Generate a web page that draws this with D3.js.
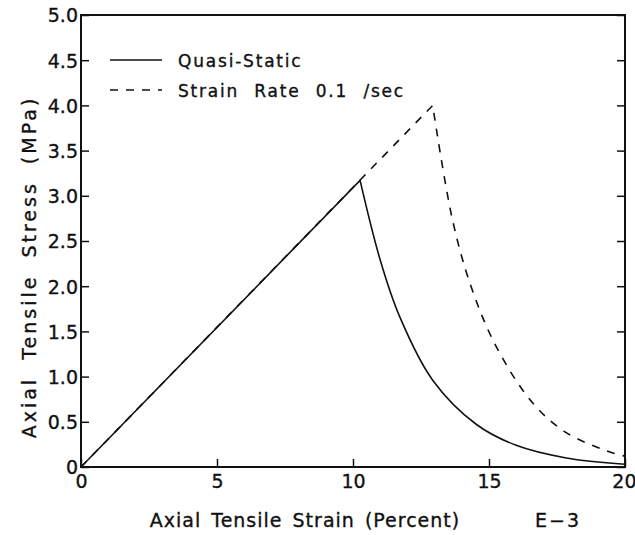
<!DOCTYPE html>
<html>
<head>
<meta charset="utf-8">
<script src="https://cdn.jsdelivr.net/npm/d3@7"></script>
<style>
  html, body { margin: 0; padding: 0; background: #fff; }
  svg text { font-family: "DejaVu Sans", sans-serif; fill: #111; stroke: #111; stroke-width: 0.35px; }
</style>
</head>
<body>
<svg id="chart" width="635" height="535"></svg>
<script>
// Stress–strain data (strain in units of E-3 percent, stress in MPa)
const quasiStrain = [0, 10.26, 11.0, 11.72, 12.93, 14.54, 16.0, 17.84, 20.0];
const quasiStress = [0, 3.17, 2.29, 1.66, 0.96, 0.47, 0.24, 0.10, 0.03];

const rateStrain = [0, 12.93, 13.66, 14.36, 15.27, 16.6, 17.84, 19.5, 20.0];
const rateStress = [0, 4.0, 2.73, 1.98, 1.33, 0.71, 0.38, 0.16, 0.12];

const xTicks = [0, 5, 10, 15, 20];
const yTicks = [0, 0.5, 1.0, 1.5, 2.0, 2.5, 3.0, 3.5, 4.0, 4.5, 5.0];
const yTickLabels = ["0", "0.5", "1.0", "1.5", "2.0", "2.5", "3.0", "3.5", "4.0", "4.5", "5.0"];

const seriesNames = ["Quasi-Static", "Strain Rate 0.1 /sec"];

const svg = d3.select("#chart");
const plotLeft = 81, plotRight = 625, plotTop = 15, plotBottom = 467;

const x = d3.scaleLinear().domain([0, 20]).range([plotLeft, plotRight]);
const y = d3.scaleLinear().domain([0, 5]).range([plotBottom, plotTop]);

const tickLen = 8;

// frame
svg.append("rect")
  .attr("x", plotLeft).attr("y", plotTop)
  .attr("width", plotRight - plotLeft).attr("height", plotBottom - plotTop)
  .attr("fill", "none").attr("stroke", "#111").attr("stroke-width", 2);

// left axis: inward ticks
const yAxisL = d3.axisLeft(y).tickValues(yTicks)
  .tickSizeInner(-tickLen).tickSizeOuter(0)
  .tickFormat((d, i) => yTickLabels[i]);
const gL = svg.append("g").attr("transform", `translate(${plotLeft},0)`).call(yAxisL);
gL.select(".domain").remove();
gL.selectAll("line").attr("stroke", "#111").attr("stroke-width", 1.5);
gL.selectAll("text").attr("x", -3).attr("dy", "0.36em")
  .attr("font-size", 19).attr("letter-spacing", 0);

// right axis: inward ticks, no labels
const yAxisR = d3.axisRight(y).tickValues(yTicks)
  .tickSizeInner(-tickLen).tickSizeOuter(0).tickFormat("");
const gR = svg.append("g").attr("transform", `translate(${plotRight},0)`).call(yAxisR);
gR.select(".domain").remove();
gR.selectAll("line").attr("stroke", "#111").attr("stroke-width", 1.5);

// bottom axis: inward ticks
const xAxis = d3.axisBottom(x).tickValues(xTicks)
  .tickSizeInner(-tickLen).tickSizeOuter(0).tickFormat(d3.format("d"));
const gB = svg.append("g").attr("transform", `translate(0,${plotBottom})`).call(xAxis);
gB.select(".domain").remove();
gB.selectAll("line").attr("stroke", "#111").attr("stroke-width", 1.5);
gB.selectAll("text").attr("y", 7).attr("dy", "0.76em")
  .attr("font-size", 19).attr("letter-spacing", 0);
// keep the last label inside the canvas
gB.selectAll("text").filter(d => d === 20).attr("text-anchor", "end").attr("x", 11);

// curves
const smooth = d3.line().x(d => x(d[0])).y(d => y(d[1])).curve(d3.curveCatmullRom.alpha(0.5));
const quasi = quasiStrain.map((v, i) => [v, quasiStress[i]]);
const rate = rateStrain.map((v, i) => [v, rateStress[i]]);

// piecewise: straight loading line, smooth softening branch
function pathFor(pts) {
  const straight = d3.line().x(d => x(d[0])).y(d => y(d[1]))(pts.slice(0, 2));
  const soft = smooth(pts.slice(1));
  return straight + soft.replace(/^M/, "L");
}

svg.append("path").attr("d", pathFor(rate))
  .attr("fill", "none").attr("stroke", "#111").attr("stroke-width", 1.6)
  .attr("stroke-dasharray", "8,8");
svg.append("path").attr("d", pathFor(quasi))
  .attr("fill", "none").attr("stroke", "#111").attr("stroke-width", 1.6);

// legend
const legend = svg.append("g");
[0, 1].forEach(i => {
  const ly = 60 + i * 30;
  legend.append("line")
    .attr("x1", 110).attr("x2", 162).attr("y1", ly).attr("y2", ly)
    .attr("stroke", "#111").attr("stroke-width", 1.6)
    .attr("stroke-dasharray", i === 1 ? "8,8" : null);
  legend.append("text")
    .attr("x", 178).attr("y", ly + 7)
    .attr("font-size", 17).attr("letter-spacing", 1.8).attr("word-spacing", 8)
    .text(seriesNames[i]);
});

// axis titles
svg.append("text")
  .attr("x", 305).attr("y", 527).attr("text-anchor", "middle")
  .attr("font-size", 19).attr("letter-spacing", 1).attr("word-spacing", 3)
  .text("Axial Tensile Strain (Percent)");
svg.append("text")
  .attr("x", 558).attr("y", 527).attr("text-anchor", "middle")
  .attr("font-size", 19).attr("letter-spacing", 2)
  .text("E\u22123");
svg.append("text")
  .attr("transform", "translate(36,267) rotate(-90)")
  .attr("text-anchor", "middle")
  .attr("font-size", 19).attr("letter-spacing", 3).attr("word-spacing", 8)
  .text("Axial Tensile Stress (MPa)");
</script>
</body>
</html>
